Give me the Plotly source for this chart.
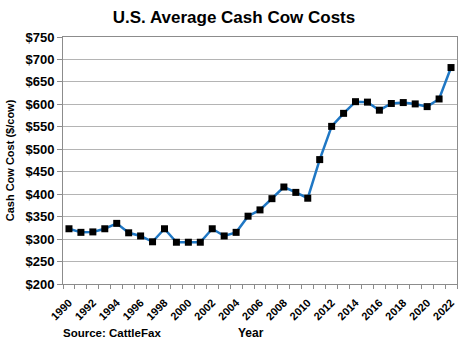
import plotly.graph_objects as go

years = list(range(1990, 2023))
cost = [323, 315, 316, 323, 335, 314, 307, 294, 323, 293, 293, 293, 323, 307, 315,
        351, 365, 390, 416, 404, 391, 477, 551, 580, 606, 605, 587, 602, 604, 601,
        595, 612, 682]
tick_years = list(range(1990, 2023, 2))
y_ticks = list(range(200, 751, 50))

fig = go.Figure()
fig.add_trace(go.Scatter(
    x=years, y=cost, mode="lines+markers",
    line=dict(color="#1F77C4", width=2.5),
    marker=dict(symbol="square", size=7, color="black"),
    showlegend=False,
))

font_main = "Liberation Sans, Arial, sans-serif"
fig.update_layout(
    width=468, height=341,
    margin=dict(l=62, r=10, t=37, b=57),
    paper_bgcolor="white", plot_bgcolor="white",
    font=dict(family=font_main, color="black"),
    title=dict(text="<b>U.S. Average Cash Cow Costs</b>", x=0.5, xanchor="center",
               y=0.95, yanchor="middle", font=dict(size=17, family=font_main)),
)
fig.update_xaxes(
    range=[1989.5, 2022.5], tickmode="array", tickvals=tick_years,
    ticktext=[f"<b>{y}</b>" for y in tick_years], tickangle=-45,
    tickfont=dict(size=11), ticks="", ticklabelstandoff=7, showgrid=False,
    showline=True, linecolor="#8c8c8c", linewidth=1, mirror=True,
    minor=dict(tickmode="array", tickvals=[y + 0.5 for y in range(1989, 2023)],
               ticks="outside", ticklen=4, tickcolor="#8c8c8c", showgrid=False),
    zeroline=False,
)
fig.update_yaxes(
    range=[200, 750], tickmode="array", tickvals=y_ticks,
    ticktext=[f"<b>${v}</b>" for v in y_ticks], tickfont=dict(size=13),
    ticks="outside", ticklen=5, tickcolor="#8c8c8c",
    showgrid=True, gridcolor="#b4b4b4", gridwidth=1,
    showline=True, linecolor="#8c8c8c", linewidth=1, mirror=True,
    zeroline=False,
    title=dict(text="<b>Cash Cow Cost ($/cow)</b>", font=dict(size=11), standoff=8),
)
fig.add_annotation(text="<b>Source: CattleFax</b>", xref="paper", yref="paper",
                   x=-0.005, y=-0.2, xanchor="left", yanchor="middle",
                   showarrow=False, font=dict(size=11.5))
fig.add_annotation(text="<b>Year</b>", xref="paper", yref="paper",
                   x=0.478, y=-0.2, xanchor="center", yanchor="middle",
                   showarrow=False, font=dict(size=12))

fig.write_html("out.html")
